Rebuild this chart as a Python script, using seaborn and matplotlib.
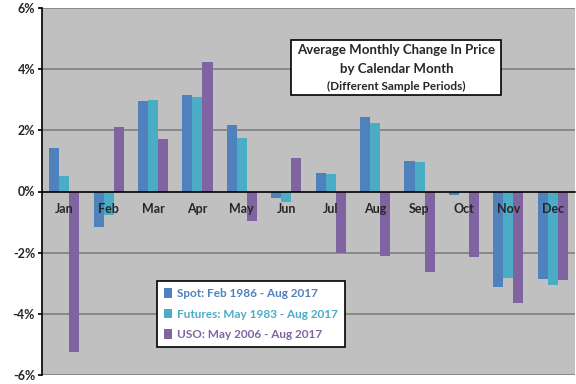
"""Average monthly change in oil price by calendar month (three sample periods)."""
import numpy as np
import pandas as pd
import matplotlib
matplotlib.use("Agg")
import matplotlib.pyplot as plt
from matplotlib.patches import Rectangle, Patch
import seaborn as sns

months = ["Jan", "Feb", "Mar", "Apr", "May", "Jun",
          "Jul", "Aug", "Sep", "Oct", "Nov", "Dec"]
series = ["Spot: Feb 1986 - Aug 2017",
          "Futures: May 1983 - Aug 2017",
          "USO: May 2006 - Aug 2017"]
spot = [1.41, -1.17, 2.97, 3.17, 2.16, -0.20, 0.62, 2.45, 1.01, -0.12, -3.13, -2.87]
futures = [0.52, -0.78, 3.00, 3.10, 1.76, -0.35, 0.56, 2.25, 0.98, 0.00, -2.83, -3.06]
uso = [-5.25, 2.12, 1.73, 4.25, -0.95, 1.11, -2.02, -2.11, -2.64, -2.15, -3.65, -2.90]
colors = ["#4F81BD", "#4BACC6", "#8064A2"]
yticks = [-6, -4, -2, 0, 2, 4, 6]

df = pd.DataFrame({
    "month": months * 3,
    "series": np.repeat(series, len(months)),
    "value": spot + futures + uso,
})

sns.set_style("white")
plt.rcParams["font.family"] = ["Lato", "DejaVu Sans"]

fig = plt.figure(figsize=(5.76, 3.84), dpi=100)
ax = fig.add_axes([42 / 576, 1 - 375 / 384, 533 / 576, 367 / 384])
ax.set_facecolor("#C0C0C0")

sns.barplot(data=df, x="month", y="value", hue="series", order=months,
            hue_order=series, palette=colors, width=0.68, gap=0,
            saturation=1, edgecolor="none", legend=False, ax=ax)

ax.set_axisbelow(False)  # month labels sit on top of the bars
ax.set_xlim(-0.5, len(months) - 0.5)
ax.set_ylim(-6, 6)
ax.set_yticks(yticks)
ax.set_yticklabels([f"{v}%" for v in yticks], fontsize=9, fontweight="bold")
for v in yticks:
    if v != 0:
        ax.axhline(v, color="#808080", lw=1.2, zorder=0.5)

# x axis sits on the zero line, labels centred, ticks between categories
ax.spines["bottom"].set_position(("data", 0))
ax.spines["bottom"].set_color("black")
ax.spines["bottom"].set_linewidth(1.2)
ax.spines["left"].set_color("black")
ax.spines["left"].set_linewidth(1.2)
ax.spines["top"].set_visible(False)
ax.spines["right"].set_visible(False)
ax.set_xticks(range(len(months)))
ax.set_xticklabels(months, fontsize=9, fontweight="bold")
ax.set_xticks(np.arange(0.5, len(months) - 1, 1), minor=True)
ax.tick_params(axis="x", which="major", length=0, pad=8)
ax.tick_params(axis="x", which="minor", length=4, width=1.2, direction="out", color="black")
ax.tick_params(axis="y", length=3, width=1.2, direction="out", color="black", pad=2, left=True)
ax.set_xlabel("")
ax.set_ylabel("")

# title box
ax.add_patch(Rectangle((0.468, 0.763), 0.393, 0.150, transform=ax.transAxes,
                       facecolor="white", edgecolor="black", lw=1.2, zorder=5))
ax.text(0.665, 0.886, "Average Monthly Change In Price", transform=ax.transAxes,
        ha="center", va="center", fontsize=9.5, fontweight="bold", zorder=6)
ax.text(0.665, 0.834, "by Calendar Month", transform=ax.transAxes,
        ha="center", va="center", fontsize=9.5, fontweight="bold", zorder=6)
ax.text(0.665, 0.787, "(Different Sample Periods)", transform=ax.transAxes,
        ha="center", va="center", fontsize=8.5, fontweight="bold", zorder=6)

handles = [Patch(facecolor=c, edgecolor="none") for c in colors]
leg = ax.legend(handles, series, loc="lower left", bbox_to_anchor=(0.215, 0.076),
                borderaxespad=0, frameon=True, fancybox=False, framealpha=1,
                edgecolor="black", handlelength=0.7, handleheight=0.9,
                handletextpad=0.4, labelspacing=0.8, borderpad=0.6,
                prop={"size": 8.5, "weight": "bold"})
leg.get_frame().set_linewidth(1.2)
for txt, c in zip(leg.get_texts(), colors):
    txt.set_color(c)

fig.savefig("out.png", dpi=100)
